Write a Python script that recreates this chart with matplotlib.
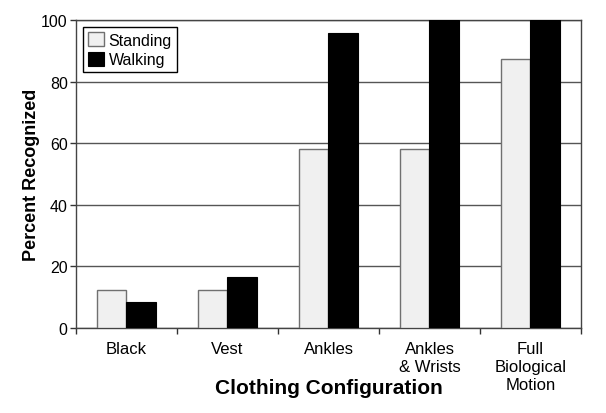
import numpy as np
import matplotlib.pyplot as plt

plt.rcParams['font.family'] = ['Liberation Sans', 'DejaVu Sans']

categories = ["Black", "Vest", "Ankles", "Ankles\n& Wrists", "Full\nBiological\nMotion"]
standing = [12.5, 12.5, 58.3, 58.3, 87.5]
walking = [8.3, 16.7, 95.8, 100, 100]
y_ticks = [0, 20, 40, 60, 80, 100]

fig = plt.figure(figsize=(6.06, 4.14), dpi=100)
ax = fig.add_axes([0.1254, 0.2053, 0.8333, 0.7437])

x = np.arange(len(categories))
w = 0.29
ax.bar(x - w/2, standing, w, color="#f0f0f0", edgecolor="#707070", linewidth=1.0,
       label="Standing", zorder=3)
ax.bar(x + w/2, walking, w, color="black", edgecolor="black", linewidth=0.8,
       label="Walking", zorder=3)

ax.set_xlim(-0.5, len(categories) - 0.5)
ax.set_ylim(0, 100)
ax.set_yticks(y_ticks)
ax.yaxis.grid(True, color="#555555", linewidth=1.0, zorder=0)

ax.set_xticks(x)
ax.set_xticklabels(categories, fontsize=12, linespacing=1.25)
ax.set_xticks(np.arange(len(categories) + 1) - 0.5, minor=True)
ax.tick_params(axis="x", which="major", length=0, pad=9)
ax.tick_params(axis="x", which="minor", length=4, width=1, color="#333333")
ax.tick_params(axis="y", length=4, width=1, color="#333333", labelsize=11.5, pad=2)

for s in ax.spines.values():
    s.set_color("#444444")
    s.set_linewidth(1.0)

ax.set_ylabel("Percent Recognized", fontsize=13, fontweight="bold", labelpad=1)
ax.set_xlabel("Clothing Configuration", fontsize=15, fontweight="bold", labelpad=-10)

leg = ax.legend(loc="upper left", fontsize=11.5, frameon=True, fancybox=False,
                edgecolor="black", framealpha=1, borderpad=0.3, borderaxespad=0,
                handlelength=1.0, handleheight=1.0, handletextpad=0.3,
                labelspacing=0.25, bbox_to_anchor=(0.014, 0.977))
leg.get_frame().set_linewidth(1.0)

fig.savefig("out.png", dpi=100)
